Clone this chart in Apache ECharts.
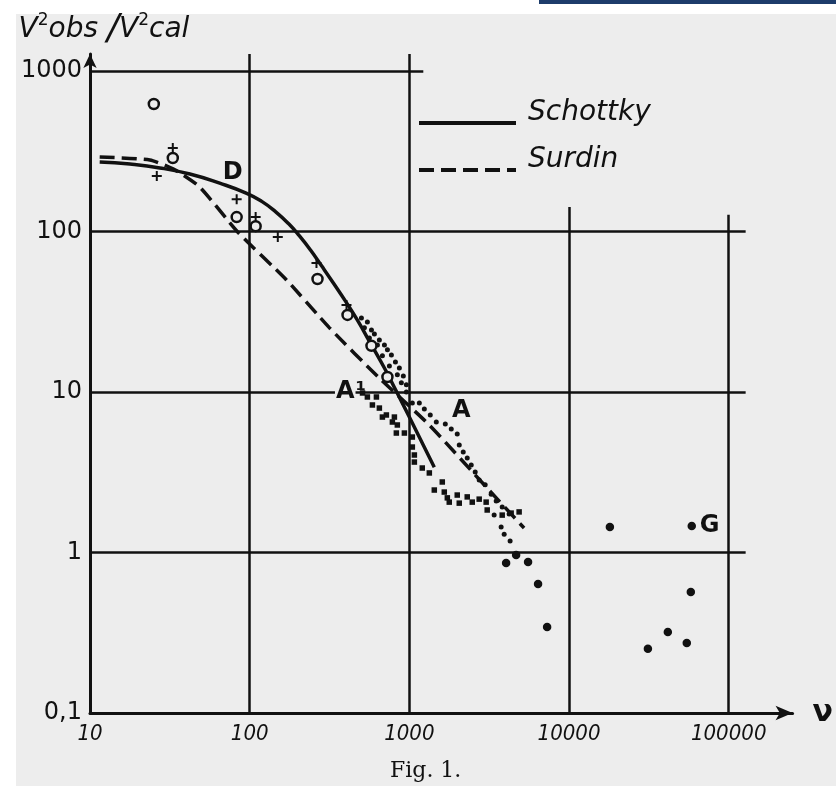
<!DOCTYPE html>
<html><head><meta charset="utf-8">
<script src="https://cdn.jsdelivr.net/npm/echarts@6/dist/echarts.min.js"></script>
<style>html,body{margin:0;padding:0;background:#fff}#chart{width:836px;height:786px}</style>
</head><body><div id="chart"></div>
<script>
// ---- tick labels ----
const xTickLabels = ['10', '100', '1000', '10000', '100000'];   // 10^1 .. 10^5
const yTickLabels = ['0,1', '1', '10', '100', '1000'];          // 10^-1 .. 10^3

// ---- theory curves ----
const schottkyNu = [11.5, 17.8, 27.4, 42.2, 64.9, 95.8, 119, 145, 175, 205, 241, 282, 335, 398, 473, 562, 698, 829, 1000, 1433];
const schottkyV  = [271, 263, 249, 228, 200, 173, 154, 133, 112, 93.8, 76.4, 61.1, 47.6, 36.8, 28.0, 20.7, 14.1, 10.1, 6.98, 3.40];
const surdinNu = [11.5, 23.7, 34.0, 48.7, 84.1, 170, 316, 649, 1334, 3027, 5230];
const surdinV  = [291, 279, 242, 189, 99.3, 49.9, 25.1, 12.2, 6.22, 2.56, 1.42];

// ---- measured points ----
const circleNu = [25.1, 33.0, 82.9, 109, 266, 410, 579, 729];
const circleV  = [623, 287, 123, 108, 50.6, 30.2, 19.4, 12.4];
const plusNu = [26.2, 33.0, 82.9, 109, 150, 262, 404];
const plusV  = [222, 331, 159, 123, 92.4, 63.6, 34.8];

// band A (small round dots)
const bandANu = [501, 546, 579, 604, 649, 698, 729, 772, 818, 866, 917, 958, 958, 1044, 1155, 1241, 1352, 1475, 1679, 1830, 1995, 2054, 2175, 2304, 2441, 2585, 2738, 2985, 3254, 3499, 3815, 4217, 3396, 3758, 3926, 4276,
                 523, 562, 631, 678, 750, 841, 891];
const bandAV  = [28.9, 27.3, 24.3, 23.0, 21.1, 19.6, 18.3, 17.0, 15.4, 14.1, 12.6, 11.1, 10.0, 8.54, 8.54, 7.83, 7.19, 6.50, 6.32, 5.88, 5.47, 4.68, 4.23, 3.88, 3.51, 3.17, 2.83, 2.64, 2.31, 2.09, 1.92, 1.74, 1.71, 1.44, 1.30, 1.18,
                 25.1, 21.7, 19.6, 16.8, 14.5, 12.8, 11.4];
// band A1 (small squares)
const bandA1Nu = [509, 546, 622, 587, 649, 678, 718, 806, 783, 841, 829, 931, 1044, 1044, 1075, 1075, 1205, 1334, 1608, 1433, 1655, 1729, 1778, 1995, 2054, 2304, 2477, 2738, 3027, 3073, 3815, 4340, 4870];
const bandA1V  = [9.86, 9.31, 9.31, 8.30, 7.94, 6.98, 7.19, 6.98, 6.50, 6.23, 5.55, 5.55, 5.24, 4.54, 4.05, 3.66, 3.36, 3.13, 2.75, 2.45, 2.38, 2.19, 2.06, 2.28, 2.03, 2.22, 2.06, 2.15, 2.06, 1.84, 1.71, 1.76, 1.79];
// G (large filled dots)
const bigNu = [4036, 4665, 5540, 6400, 7290, 18030, 31190, 41580, 54640, 57900, 58700];
const bigV  = [0.861, 0.964, 0.873, 0.637, 0.344, 1.44, 0.251, 0.320, 0.273, 0.568, 1.46];

// ---- annotations ----
const annotText = ['D', 'A¹', 'A', 'G'];
const annotNu = [78.3, 428, 2113, 76000];
const annotV  = [231, 10, 7.62, 1.46];

// ---- build ----
const INK = '#111111', PAPER = '#ededed';
const zip = (a, b) => a.map((v, i) => [v, b[i]]);
const X_MIN = 10, X_MAX = 251189, Y_MIN = 0.1, Y_MAX = 1276;

function powLabel(v, arr, offset) {
  const l = Math.log10(v), r = Math.round(l);
  if (Math.abs(l - r) > 1e-6) return '';
  const s = arr[r + offset];
  return s === undefined ? '' : s;
}

const gridLines = [
  [{coord: [X_MIN, 1000]}, {coord: [1223, 1000]}],
  [{coord: [X_MIN, 100]}, {coord: [127700, 100]}],
  [{coord: [X_MIN, 10]}, {coord: [127700, 10]}],
  [{coord: [X_MIN, 1]}, {coord: [127700, 1]}],
  [{coord: [100, Y_MIN]}, {coord: [100, Y_MAX]}],
  [{coord: [1000, Y_MIN]}, {coord: [1000, Y_MAX]}],
  [{coord: [10000, Y_MIN]}, {coord: [10000, 142]}],
  [{coord: [100000, Y_MIN]}, {coord: [100000, 127]}]
];

const solidStyle = {opacity: 1, color: INK};
const chart = echarts.init(document.getElementById('chart'), null, {renderer: 'canvas'});
chart.setOption({
  animation: false,
  backgroundColor: '#ffffff',
  graphic: [
    {type: 'rect', shape: {x: 16, y: 14, width: 820, height: 772}, style: {fill: PAPER}, z: -10, silent: true},
    {type: 'rect', shape: {x: 539, y: 0, width: 297, height: 4}, style: {fill: '#1d3c6b'}, z: -9, silent: true}
  ],
  title: {
    text: 'Fig. 1.', left: 390, top: 760, padding: 0,
    textStyle: {fontFamily: 'DejaVu Serif', fontWeight: 'normal', fontSize: 22, color: INK}
  },
  legend: {
    data: ['Schottky', 'Surdin'], orient: 'vertical', left: 412, top: 94,
    itemWidth: 97, itemHeight: 30, itemGap: 11, selectedMode: false,
    itemStyle: {opacity: 0},
    lineStyle: {width: 4, opacity: 1},
    formatter: name => '{t|' + name + '}',
    textStyle: {
      fontFamily: 'DejaVu Sans', fontStyle: 'italic', fontSize: 28, color: INK,
      rich: {t: {fontFamily: 'DejaVu Sans', fontStyle: 'italic', fontSize: 28, color: INK, padding: [0, 0, 20, 7]}}
    }
  },
  grid: {left: 90, right: 42, top: 54, bottom: 73, containLabel: false},
  xAxis: {
    type: 'log', logBase: 10, min: X_MIN, max: X_MAX,
    name: 'ν', nameLocation: 'end', nameGap: 20,
    nameTextStyle: {fontFamily: 'DejaVu Sans', fontWeight: 'bold', fontSize: 30, color: INK},
    axisLine: {show: true, symbol: ['none', 'arrow'], symbolSize: [11, 17], lineStyle: {color: INK, width: 3}},
    axisTick: {show: false}, splitLine: {show: false}, minorTick: {show: false},
    axisLabel: {
      margin: 10, color: INK, fontSize: 22, fontStyle: 'italic',
      fontFamily: "'DejaVu Sans Condensed', 'DejaVu Sans', sans-serif",
      formatter: v => powLabel(v, xTickLabels, -1)
    }
  },
  yAxis: {
    type: 'log', logBase: 10, min: Y_MIN, max: Y_MAX,
    name: '{n|V}{s|2}{n|obs }{sl|/}{n|V}{s|2}{n|cal}', nameLocation: 'end', nameGap: 6,
    nameTextStyle: {
      align: 'center', padding: [0, 0, 0, 28],
      rich: {
        n: {fontFamily: 'DejaVu Sans', fontStyle: 'italic', fontSize: 28, color: INK},
        s: {fontFamily: 'DejaVu Sans', fontSize: 17, color: INK, verticalAlign: 'top'},
        sl: {fontFamily: 'DejaVu Sans', fontStyle: 'italic', fontSize: 36, color: INK}
      }
    },
    axisLine: {show: true, symbol: ['none', 'arrow'], symbolSize: [10, 14], lineStyle: {color: INK, width: 3}},
    axisTick: {show: false}, splitLine: {show: false}, minorTick: {show: false},
    axisLabel: {
      margin: 8, color: INK, fontSize: 24, fontFamily: 'DejaVu Sans',
      formatter: v => powLabel(v, yTickLabels, 1)
    }
  },
  series: [
    {
      name: 'grid', type: 'line', data: [], z: 1, silent: true,
      markLine: {
        silent: true, symbol: ['none', 'none'], label: {show: false}, animation: false,
        lineStyle: {color: INK, width: 2.5, type: 'solid', opacity: 1}, emphasis: {disabled: true},
        data: gridLines
      }
    },
    {
      name: 'Schottky', type: 'line', data: zip(schottkyNu, schottkyV), smooth: 0.5,
      symbol: 'none', lineStyle: {color: INK, width: 3.5}, itemStyle: solidStyle, z: 3
    },
    {
      name: 'Surdin', type: 'line', data: zip(surdinNu, surdinV), smooth: 0.2,
      symbol: 'none', lineStyle: {color: INK, width: 3.5, type: [15, 7]}, itemStyle: solidStyle, z: 3
    },
    {
      name: 'A', type: 'scatter', data: zip(bandANu, bandAV), symbol: 'circle', symbolSize: 5,
      itemStyle: solidStyle, z: 4, silent: true
    },
    {
      name: 'A1', type: 'scatter', data: zip(bandA1Nu, bandA1V), symbol: 'rect', symbolSize: 5.5,
      itemStyle: solidStyle, z: 4, silent: true
    },
    {
      name: 'G', type: 'scatter', data: zip(bigNu, bigV), symbol: 'circle', symbolSize: 8.5,
      itemStyle: solidStyle, z: 4, silent: true
    },
    {
      name: 'circles', type: 'scatter', data: zip(circleNu, circleV), symbol: 'circle', symbolSize: 10,
      itemStyle: {color: PAPER, borderColor: INK, borderWidth: 2.5, opacity: 1}, z: 5, silent: true
    },
    {
      name: 'plus', type: 'scatter', data: zip(plusNu, plusV),
      symbol: 'path://M4,0H6V4H10V6H6V10H4V6H0V4H4Z', symbolSize: 10,
      itemStyle: solidStyle, z: 5, silent: true
    },
    {
      name: 'labels', type: 'scatter', data: zip(annotNu, annotV), symbol: 'circle', symbolSize: 1,
      itemStyle: {color: 'rgba(0,0,0,0)', opacity: 1}, z: 6, silent: true,
      label: {
        show: true, position: 'inside',
        formatter: p => {
          const t = annotText[p.dataIndex];
          if (t.length > 1) return '{b|' + t[0] + '}{u|' + t.slice(1) + '}';
          return '{c|' + t + '}';
        },
        rich: {
          c: {fontFamily: 'DejaVu Sans', fontWeight: 'bold', fontSize: 24, color: INK},
          b: {fontFamily: 'DejaVu Sans', fontWeight: 'bold', fontSize: 24, color: INK, backgroundColor: PAPER, padding: [0, 1]},
          u: {fontFamily: 'DejaVu Sans', fontWeight: 'bold', fontSize: 24, color: INK}
        }
      }
    }
  ]
});
</script></body></html>
